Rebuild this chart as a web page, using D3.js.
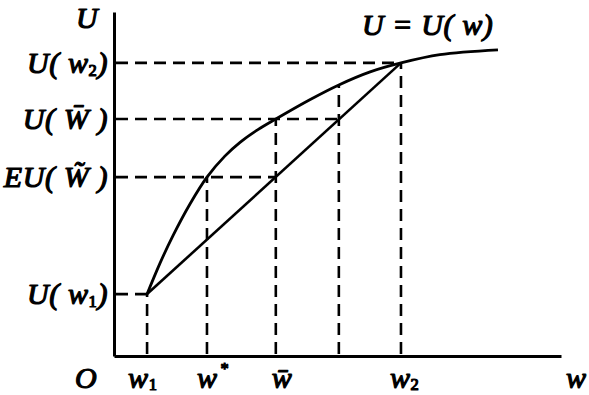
<!DOCTYPE html>
<html>
<head>
<meta charset="utf-8">
<script src="https://cdn.jsdelivr.net/npm/d3@7"></script>
<style>
  html, body { margin: 0; padding: 0; background: #fff; }
</style>
</head>
<body>
<svg id="chart" width="589" height="395"></svg>
<script>
// ---- data (abstract units: wealth w on 0..100, utility U on 0..100) ----
const curveW = [7.4, 10.3, 13.2, 17.0, 20.8, 24.8, 28.2, 32.2, 36.2, 43.8, 50.3, 57.3, 64.2, 72.9, 85.9];
const curveU = [18.0, 27.0, 35.0, 44.2, 52.0, 58.1, 62.1, 65.8, 68.9, 74.5, 78.8, 82.6, 85.2, 87.6, 89.0];

const chordW = [7.4, 64.2];
const chordU = [18.0, 85.2];

// vertical guides: x position and height reached
const guideW = [7.4, 20.8, 36.2, 50.3, 64.2];
const guideTop = [18.0, 52.0, 68.9, 78.8, 85.2];

// horizontal guides: U level and the w where they stop
const levelU = [85.2, 68.9, 52.0, 18.0];
const levelEnd = [64.2, 50.3, 36.2, 7.4];

// y-axis labels
const yLabelPrefix = ["U( ", "U( ", "EU( ", "U( "];
const yLabelBase = ["w", "W\u0304", "W\u0303", "w"];
const yLabelSub = ["2", "", "", "1"];

// x-axis labels
const xLabelW = [7.4, 20.8, 36.2, 64.2];
const xLabelBase = ["w", "w", "w\u0304", "w"];
const xLabelSub = ["1", "", "", "2"];
const xLabelSup = ["", "*", "", ""];

// ---- drawing ----
const FONT = "'Liberation Serif', serif";
const svg = d3.select("#chart");
const x = d3.scaleLinear().domain([0, 100]).range([114, 561]);
const y = d3.scaleLinear().domain([0, 100]).range([356, 12]);
const FS = 30;

function label(sel) {
  return sel.append("text")
    .style("font-family", FONT)
    .style("font-style", "italic")
    .style("font-weight", "normal")
    .style("letter-spacing", "0.6px")
    .attr("font-size", FS)
    .attr("fill", "#000")
    .attr("stroke", "#000")
    .attr("stroke-width", 1.2)
    .attr("stroke-linejoin", "round");
}

// axes (no ticks)
svg.append("g").attr("transform", `translate(0,${y(0)})`)
  .call(d3.axisBottom(x).tickValues([]).tickSizeOuter(0));
svg.append("g").attr("transform", `translate(${x(0)},0)`)
  .call(d3.axisLeft(y).tickValues([]).tickSizeOuter(0));
svg.selectAll(".domain").attr("stroke", "#000").attr("stroke-width", 3);

const dash = "12,7";

// horizontal dashed guides
svg.append("g").selectAll("line").data(levelU).join("line")
  .attr("x1", x(0) + 2).attr("x2", (d, i) => x(levelEnd[i]))
  .attr("y1", d => y(d)).attr("y2", d => y(d))
  .attr("stroke", "#000").attr("stroke-width", 2.6).attr("stroke-dasharray", dash);

// vertical dashed guides
svg.append("g").selectAll("line").data(guideW).join("line")
  .attr("x1", d => x(d)).attr("x2", d => x(d))
  .attr("y1", y(0) - 2).attr("y2", (d, i) => y(guideTop[i]))
  .attr("stroke", "#000").attr("stroke-width", 2.6).attr("stroke-dasharray", dash);

// utility curve
const curvePts = curveW.map((w, i) => [w, curveU[i]]);
svg.append("path").datum(curvePts)
  .attr("d", d3.line().x(d => x(d[0])).y(d => y(d[1])).curve(d3.curveCatmullRom.alpha(0.5)))
  .attr("fill", "none").attr("stroke", "#000").attr("stroke-width", 2.8);

// chord
const chordPts = chordW.map((w, i) => [w, chordU[i]]);
svg.append("path").datum(chordPts)
  .attr("d", d3.line().x(d => x(d[0])).y(d => y(d[1])))
  .attr("fill", "none").attr("stroke", "#000").attr("stroke-width", 2.6);

// y-axis labels
levelU.forEach((u, i) => {
  const t = label(svg).attr("x", x(0) - 6).attr("y", y(u) + 10).attr("text-anchor", "end");
  t.append("tspan").text(yLabelPrefix[i]);
  t.append("tspan").text(yLabelBase[i]);
  if (yLabelSub[i]) {
    t.append("tspan").text(yLabelSub[i]).attr("font-size", FS * 0.55)
      .style("font-style", "normal").attr("dy", 3);
    t.append("tspan").text(")").attr("dy", -3);
  } else {
    t.append("tspan").text(" )");
  }
});

// y axis title
label(svg).attr("x", 76).attr("y", 28).text("U");

// x-axis labels
const xOffsets = [-19, -10, -4, -11];
xLabelW.forEach((w, i) => {
  const t = label(svg).attr("x", x(w) + xOffsets[i]).attr("y", 388);
  t.append("tspan").text(xLabelBase[i]);
  if (xLabelSub[i]) t.append("tspan").text(xLabelSub[i]).attr("font-size", FS * 0.55)
      .style("font-style", "normal").attr("dy", 2);
  if (xLabelSup[i]) t.append("tspan").text(xLabelSup[i]).attr("font-size", FS * 0.55)
      .style("font-style", "normal").attr("dy", -14).attr("dx", 3);
});

// origin and axis name
label(svg).attr("x", 75).attr("y", 388).text("O");
label(svg).attr("x", 566).attr("y", 388).text("w");

// curve label
label(svg).attr("x", 362).attr("y", 35).text("U = U( w)");
</script>
</body>
</html>
